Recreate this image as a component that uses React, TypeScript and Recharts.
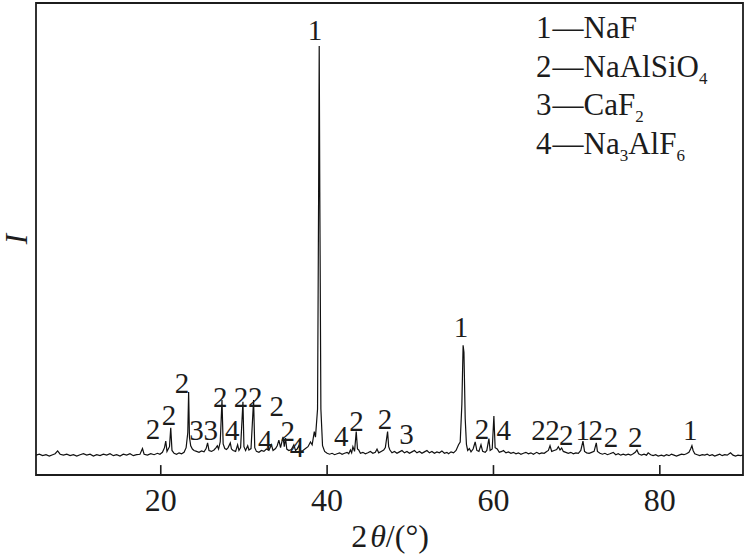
import React from 'react';
import { ComposedChart, Line, Scatter, XAxis, YAxis, ReferenceArea, ReferenceLine } from 'recharts';

// XRD trace, [2θ (°), intensity], split by angle range
const trace05to20: [number, number][] = [
  [5.0, 42], [5.4, 44], [5.8, 41], [6.2, 43], [6.6, 40], [7.0, 43], [7.3, 45], [7.6, 51], [7.9, 44],
  [8.3, 42], [8.7, 44], [9.1, 41], [9.5, 43], [9.9, 40], [10.3, 43], [10.7, 45], [11.1, 42], [11.5, 44],
  [11.9, 40], [12.3, 43], [12.7, 41], [13.1, 44], [13.5, 42], [13.9, 45], [14.3, 41], [14.7, 43],
  [15.1, 40], [15.5, 44], [15.9, 42], [16.3, 45], [16.7, 41], [17.1, 43], [17.5, 44], [17.8, 56],
  [18.0, 44], [18.4, 42], [18.8, 45], [19.2, 43], [19.6, 46],
];

const trace20to30: [number, number][] = [
  [19.9, 44], [20.2, 48], [20.45, 58], [20.6, 72], [20.75, 50], [20.9, 55], [21.05, 60], [21.2, 100],
  [21.35, 52], [21.6, 46], [21.9, 44], [22.2, 47], [22.5, 45], [22.8, 48], [23.05, 58], [23.25, 90],
  [23.35, 176], [23.45, 80], [23.6, 62], [23.8, 55], [24.0, 52], [24.3, 50], [24.6, 48], [24.9, 51],
  [25.2, 49], [25.45, 56], [25.63, 68], [25.8, 52], [26.1, 50], [26.4, 53], [26.65, 58], [26.8, 62],
  [26.95, 55], [27.15, 70], [27.36, 159], [27.5, 66], [27.7, 56], [27.9, 54], [28.1, 58], [28.36, 68],
  [28.5, 55], [28.7, 52], [29.0, 50], [29.24, 64], [29.4, 52], [29.6, 58], [29.88, 155],
];

const trace30to40: [number, number][] = [
  [30.0, 60], [30.2, 52], [30.45, 62], [30.6, 53], [30.85, 56], [31.16, 159], [31.3, 58], [31.5, 50],
  [31.8, 48], [32.1, 52], [32.4, 50], [32.7, 55], [33.0, 52], [33.3, 64], [33.5, 52], [33.8, 56],
  [34.0, 62], [34.2, 74], [34.4, 58], [34.7, 81], [34.85, 60], [35.0, 78], [35.15, 55], [35.4, 52],
  [35.7, 54], [36.0, 64], [36.2, 52], [36.4, 55], [36.6, 62], [36.8, 50], [37.1, 52], [37.4, 56],
  [37.7, 60], [38.0, 70], [38.2, 64], [38.46, 92], [38.6, 80], [38.85, 140], [38.98, 600], [39.05, 909],
  [39.12, 600], [39.25, 140], [39.45, 62], [39.7, 50], [40.0, 46],
];

const trace40to56: [number, number][] = [
  [40.3, 44], [40.6, 46], [40.9, 43], [41.2, 45], [41.5, 47], [41.8, 44], [42.1, 46], [42.4, 48],
  [42.6, 45], [42.8, 53], [42.95, 47], [43.1, 60], [43.3, 50], [43.5, 92], [43.65, 55], [43.8, 53],
  [44.0, 46], [44.3, 48], [44.6, 45], [44.9, 47], [45.2, 50], [45.5, 46], [45.8, 48], [46.0, 55],
  [46.2, 47], [46.5, 50], [46.8, 53], [47.0, 58], [47.27, 92], [47.4, 60], [47.55, 53], [47.8, 47],
  [48.1, 50], [48.4, 46], [48.7, 49], [49.0, 52], [49.3, 47], [49.6, 50], [49.9, 46], [50.2, 49],
  [50.5, 52], [50.8, 47], [51.1, 50], [51.4, 46], [51.7, 49], [52.0, 52], [52.3, 47], [52.6, 50],
  [52.9, 46], [53.2, 49], [53.5, 47], [53.8, 51], [54.1, 46], [54.4, 48], [54.6, 45], [54.9, 49],
  [55.2, 47], [55.5, 52], [55.8, 64],
];

const trace56to70: [number, number][] = [
  [56.0, 70], [56.2, 150], [56.35, 275], [56.45, 260], [56.6, 120], [56.75, 65], [56.9, 52], [57.1, 56],
  [57.3, 49], [57.55, 55], [57.8, 70], [58.0, 52], [58.25, 50], [58.5, 64], [58.7, 50], [59.0, 48],
  [59.2, 52], [59.45, 77], [59.6, 52], [59.85, 55], [60.05, 125], [60.2, 58], [60.45, 55], [60.7, 48],
  [61.0, 50], [61.2, 52], [61.5, 47], [61.8, 49], [62.1, 46], [62.4, 48], [62.7, 45], [63.0, 47],
  [63.3, 44], [63.6, 46], [63.9, 48], [64.2, 45], [64.5, 47], [64.8, 44], [65.2, 48], [65.5, 45],
  [65.8, 47], [66.1, 46], [66.4, 50], [66.6, 52], [66.8, 62], [67.0, 50], [67.3, 52], [67.6, 54],
  [67.8, 60], [68.0, 53], [68.2, 57], [68.4, 50], [68.7, 48], [69.0, 46], [69.3, 48], [69.6, 45],
  [69.9, 47],
];

const trace70to90: [number, number][] = [
  [70.2, 46], [70.5, 52], [70.76, 72], [70.95, 50], [71.2, 47], [71.5, 46], [71.8, 48], [72.1, 50],
  [72.36, 68], [72.5, 50], [72.8, 46], [73.1, 44], [73.4, 46], [73.7, 43], [74.0, 45], [74.4, 48],
  [74.7, 43], [75.0, 45], [75.3, 42], [75.6, 44], [75.9, 42], [76.2, 44], [76.5, 42], [76.8, 45],
  [77.05, 48], [77.25, 53], [77.45, 45], [77.8, 42], [78.1, 44], [78.4, 42], [78.6, 47], [78.9, 43],
  [79.2, 41], [79.5, 43], [79.8, 40], [80.2, 42], [80.5, 40], [80.8, 43], [81.1, 41], [81.4, 44],
  [81.7, 42], [82.0, 40], [82.3, 42], [82.6, 44], [82.9, 43], [83.2, 45], [83.5, 48], [83.7, 55],
  [83.86, 62], [84.0, 52], [84.2, 45], [84.5, 43], [84.8, 41], [85.1, 43], [85.4, 42], [85.7, 44],
  [86.0, 41], [86.3, 43], [86.6, 40], [86.9, 42], [87.2, 44], [87.5, 41], [87.8, 43], [88.1, 42],
  [88.5, 47], [88.8, 42], [89.1, 40], [89.4, 42], [89.7, 41], [90.0, 42],
];

// phase tags over the peaks
const tagText = ['2', '2', '2', '3', '3', '2', '4', '2', '2', '4', '2', '2', '4', '1', '4', '2', '2', '3', '1', '2', '4', '2', '2', '2', '1', '2', '2', '2', '1'];
const tagAngle = [19.07, 21.0, 22.55, 24.3, 26.0, 27.15, 28.6, 29.65, 31.37, 32.57, 33.93, 35.27, 36.37, 38.54, 41.7, 43.54, 46.96, 49.55, 56.1, 58.62, 61.24, 65.42, 67.1, 68.75, 70.73, 72.3, 74.14, 77.05, 83.66];
const tagLevel = [97, 127, 194, 95, 95, 165, 95, 165, 165, 74, 145, 92, 60, 942, 83, 115, 119, 87, 314, 97, 95, 95, 95, 85, 95, 95, 80, 80, 95];

const xTicks = [20, 40, 60, 80];

const legendNum = ['1', '2', '3', '4'];
const legendPhase = [
  [['NaF', '']],
  [['NaAlSiO', '4']],
  [['CaF', '2']],
  [['Na', '3'], ['AlF', '6']],
];

const SERIF = '"Liberation Serif", "Times New Roman", serif';
const INK = '#1c1c1c';

const traceData = [...trace05to20, ...trace20to30, ...trace30to40, ...trace40to56, ...trace56to70, ...trace70to90]
  .map(([x, y]) => ({ x, y }));
const tagData = tagText.map((t, i) => ({ x: tagAngle[i], y: tagLevel[i], t }));

const Tag = (props: any) => {
  const { cx, cy, payload } = props;
  return (
    <text x={cx} y={cy} dy="0.34em" textAnchor="middle" fontFamily={SERIF} fontSize={29} fill={INK}>
      {payload.t}
    </text>
  );
};

export default function App() {
  return (
    <div style={{ position: 'absolute', left: 0, top: 0, width: 746, height: 559, background: '#fff' }}>
      <ComposedChart
        width={746}
        height={559}
        data={traceData}
        margin={{ top: 3, right: 3, bottom: 24, left: 36 }}
      >
        <XAxis
          type="number"
          dataKey="x"
          domain={[5, 90]}
          ticks={xTicks}
          allowDataOverflow
          axisLine={false}
          tickLine={false}
          tickSize={6}
          tickMargin={7}
          height={60}
          tick={{ fontSize: 32, fill: INK, fontFamily: SERIF }}
        />
        <YAxis type="number" domain={[0, 1000]} hide allowDataOverflow />
        <ReferenceArea x1={5} x2={90} y1={0} y2={1000} fill="none" stroke={INK} strokeWidth={1.8} ifOverflow="visible" />
        {xTicks.map((t) => (
          <ReferenceLine key={t} segment={[{ x: t, y: 0 }, { x: t, y: 21 }]} stroke={INK} strokeWidth={1.6} />
        ))}
        <Line
          type="linear"
          dataKey="y"
          stroke="#111"
          strokeWidth={1.2}
          dot={false}
          isAnimationActive={false}
        />
        <Scatter data={tagData} dataKey="y" shape={<Tag />} isAnimationActive={false} />
      </ComposedChart>

      <svg
        width={746}
        height={559}
        style={{ position: 'absolute', left: 0, top: 0, pointerEvents: 'none' }}
        fontFamily={SERIF}
        fill={INK}
      >
        {legendNum.map((n, i) => (
          <text key={n} x={536} y={38 + i * 38.5} fontSize={31}>
            {n}
            <tspan dx={1}>—</tspan>
            {legendPhase[i].map(([main, sub], j) => (
              <React.Fragment key={j}>
                <tspan dy={j > 0 ? -7 : 0}>{main}</tspan>
                {sub ? <tspan fontSize={17} dy={7}>{sub}</tspan> : null}
              </React.Fragment>
            ))}
          </text>
        ))}
        <text x={390} y={547} fontSize={32} textAnchor="middle">
          2<tspan fontStyle="italic" dx={3}>θ</tspan>/(°)
        </text>
        <text transform="translate(27,239) rotate(-90)" fontSize={31} fontStyle="italic" textAnchor="middle">
          I
        </text>
      </svg>
    </div>
  );
}
